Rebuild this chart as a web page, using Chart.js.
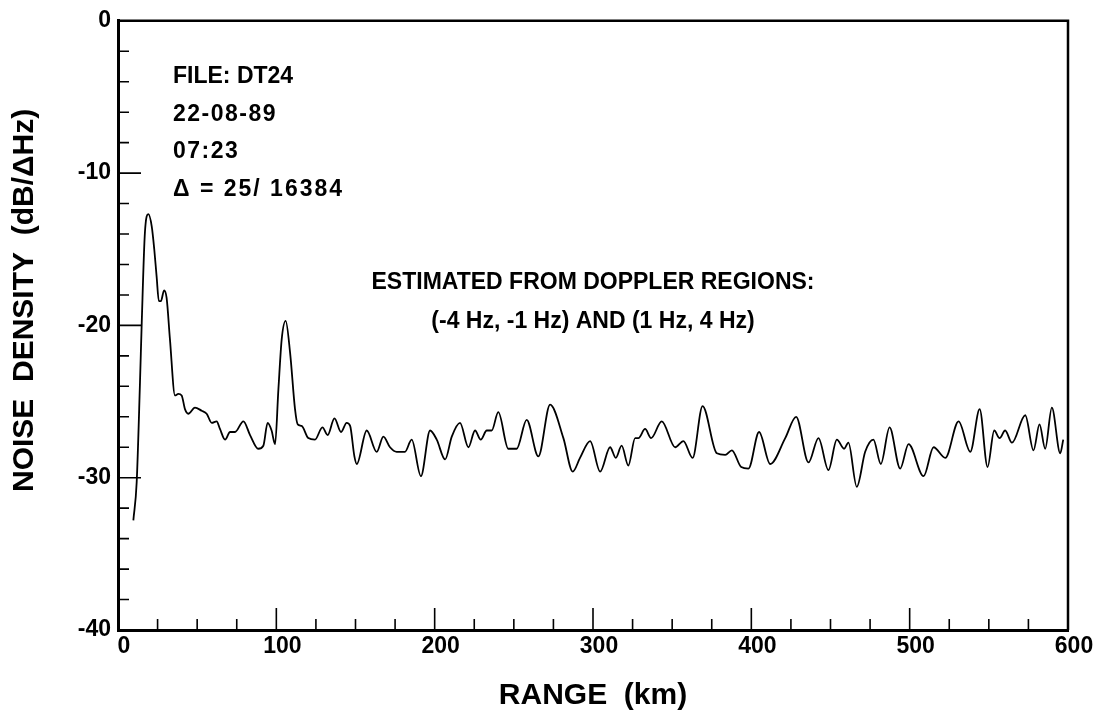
<!DOCTYPE html>
<html><head><meta charset="utf-8">
<script src="https://cdn.jsdelivr.net/npm/chart.js@4.4.1/dist/chart.umd.min.js"></script>
<style>html,body{margin:0;padding:0;background:#fff;} #wrap{width:1099px;height:711px;}</style>
</head><body><div id="wrap"><canvas id="c" width="1099" height="711"></canvas></div>
<script>
// ---- data ----
const rangeKm = [9.7, 11.8, 13.9, 15, 17, 19.2, 21.3, 22.9, 24.4, 25.8, 27.1, 29.1, 30.7, 32.8, 36, 38.1, 40.2, 42.3, 44.4, 48.6,
  52.8, 56, 59.2, 62.3, 64.4, 67.6, 70.8, 73.9, 79.2, 83.4, 88.6, 91.8, 94.5, 97, 99.2, 101.3, 103.4, 105.9, 108.7, 111.8,
  113.5, 116, 120.2, 124.4, 129.1, 132.4, 136.7, 140.9, 144.4, 146.6, 149.3, 150.8, 157.1, 163.4, 167.6, 171.8, 176, 181.2, 185.5, 191.3,
  197.1, 201.3, 206.6, 210.8, 216, 221.3, 225.5, 229.1, 232.9, 236, 240.2, 246.5, 251.8, 258.1, 265.5, 272.9, 281.3, 287.2, 291.8, 298.2,
  304.5, 310.8, 314.4, 318.1, 322.3, 326.6, 328.7, 332.9, 336.7, 343.4, 351.9, 357.1, 362.9, 369.2, 378.2, 383.5, 387.7, 393.6, 398.2, 404.9,
  411.9, 421.4, 428.3, 436.1, 442.4, 448.7, 454, 458.6, 461.3, 466.6, 471.9, 477.1, 481.8, 487.3, 494, 499.3, 508.8, 515.1, 522.5, 530.9,
  538.3, 544.2, 549.2, 553.4, 556.8, 560.3, 564.6, 573, 578.2, 582, 585.6, 589.8, 595.1, 597];
const noiseDb = [-32.8, -30.3, -23.7, -19.8, -13.9, -12.7, -13.5, -15.0, -16.8, -18.4, -18.4, -17.7, -18.2, -20.9, -24.6, -24.5, -24.6, -25.5, -25.8, -25.4,
  -25.6, -25.8, -26.4, -26.3, -26.8, -27.5, -27.0, -27.0, -26.3, -27.2, -28.1, -27.9, -26.4, -26.9, -27.8, -24.2, -20.9, -19.7, -21.8, -25.5,
  -26.5, -26.6, -27.4, -27.5, -26.7, -27.2, -26.1, -27.0, -26.4, -26.6, -28.6, -29.1, -26.9, -28.3, -27.3, -28.0, -28.3, -28.3, -27.5, -29.9,
  -26.9, -27.5, -28.8, -27.3, -26.4, -28.0, -26.9, -27.5, -26.9, -26.9, -25.7, -28.1, -28.1, -26.2, -28.6, -25.2, -27.4, -29.6, -28.7, -27.6,
  -29.6, -28.0, -28.7, -27.9, -29.2, -27.4, -27.4, -26.8, -27.4, -26.3, -28.0, -27.6, -28.7, -25.3, -28.4, -28.5, -28.2, -29.3, -29.4, -27.0,
  -29.1, -27.4, -26.0, -29.0, -27.4, -29.5, -27.5, -28.1, -27.7, -30.6, -28.3, -27.5, -29.1, -26.7, -29.4, -27.8, -29.9, -28.0, -28.7, -26.3,
  -28.3, -25.5, -29.3, -26.9, -27.4, -26.9, -27.7, -25.9, -28.2, -26.5, -28.1, -25.4, -28.4, -27.5];
const xTickValues = [0, 100, 200, 300, 400, 500, 600];
const yTickValues = [0, -10, -20, -30, -40];
const infoLines = ['FILE: DT24', '22-08-89', '07:23', 'Δ = 25/ 16384'];
const noteLines = ['ESTIMATED FROM DOPPLER REGIONS:', '(-4 Hz, -1 Hz) AND (1 Hz, 4 Hz)'];
const xTitle = 'RANGE  (km)';
const yTitle = 'NOISE  DENSITY  (dB/ΔHz)';

// ---- drawing ----
const FAM = '"Liberation Sans", Arial, Helvetica, sans-serif';
const points = rangeKm.map((v, i) => ({x: v, y: noiseDb[i]}));

const framePlugin = {
  id: 'frame',
  afterDatasetsDraw(chart) {
    const {ctx, chartArea: a, scales: {x, y}} = chart;
    ctx.save();
    ctx.strokeStyle = '#000';
    ctx.lineWidth = 2.5;
    ctx.beginPath();
    ctx.moveTo(a.left, a.top); ctx.lineTo(a.right, a.top); ctx.lineTo(a.right, a.bottom);
    ctx.stroke();
    ctx.lineWidth = 1.6;
    ctx.beginPath();
    for (let v = 25; v < 600; v += 25) {
      const px = x.getPixelForValue(v);
      const len = v % 100 === 0 ? 22 : 11;
      ctx.moveTo(px, a.bottom); ctx.lineTo(px, a.bottom - len);
    }
    for (let v = -38; v < 0; v += 2) {
      const py = y.getPixelForValue(v);
      const len = v % 10 === 0 ? 23 : 11;
      ctx.moveTo(a.left, py); ctx.lineTo(a.left + len, py);
    }
    ctx.stroke();
    ctx.fillStyle = '#000';
    ctx.font = 'bold 23px ' + FAM;
    ctx.textBaseline = 'middle';
    ctx.textAlign = 'left';
    infoLines.forEach((t, i) => {
      ctx.letterSpacing = i === 0 ? '0px' : (i === 3 ? '2px' : '1.5px');
      ctx.fillText(t, a.left + 55, a.top + 56 + i * 37.5);
    });
    ctx.letterSpacing = '0px';
    ctx.textAlign = 'center';
    const cx = (a.left + a.right) / 2;
    noteLines.forEach((t, i) => ctx.fillText(t, cx, a.top + 262 + i * 39));
    ctx.restore();
  }
};

new Chart(document.getElementById('c'), {
  type: 'line',
  data: {datasets: [{data: points, borderColor: '#000', borderWidth: 1.8, pointRadius: 0,
    cubicInterpolationMode: 'monotone', fill: false}]},
  options: {
    responsive: false, animation: false,
    layout: {padding: {top: 17, right: 31, left: 0, bottom: 0}},
    plugins: {legend: {display: false}, tooltip: {enabled: false}},
    scales: {
      x: {type: 'linear', min: 0, max: 600,
        afterBuildTicks: s => { s.ticks = xTickValues.map(v => ({value: v})); },
        afterFit: s => { s.height = 81; },
        grid: {display: false, drawTicks: false}, border: {display: true, color: '#000', width: 3},
        ticks: {color: '#000', font: {family: FAM, weight: 'bold', size: 23}, padding: 3, labelOffset: 6, maxRotation: 0, autoSkip: false},
        title: {display: true, text: xTitle, color: '#000', font: {family: FAM, weight: 'bold', size: 30, lineHeight: 1}, padding: {top: 0, bottom: 0}}
      },
      y: {type: 'linear', min: -40, max: 0,
        afterBuildTicks: s => { s.ticks = yTickValues.map(v => ({value: v})); },
        afterFit: s => { s.width = 118; },
        grid: {display: false, drawTicks: false}, border: {display: true, color: '#000', width: 3},
        ticks: {color: '#000', font: {family: FAM, weight: 'bold', size: 23}, padding: 7},
        title: {display: true, text: '      ' + yTitle, color: '#000', font: {family: FAM, weight: 'bold', size: 30, lineHeight: 1}, padding: {top: 10, bottom: 0}}
      }
    }
  },
  plugins: [framePlugin]
});
</script>
</body></html>
